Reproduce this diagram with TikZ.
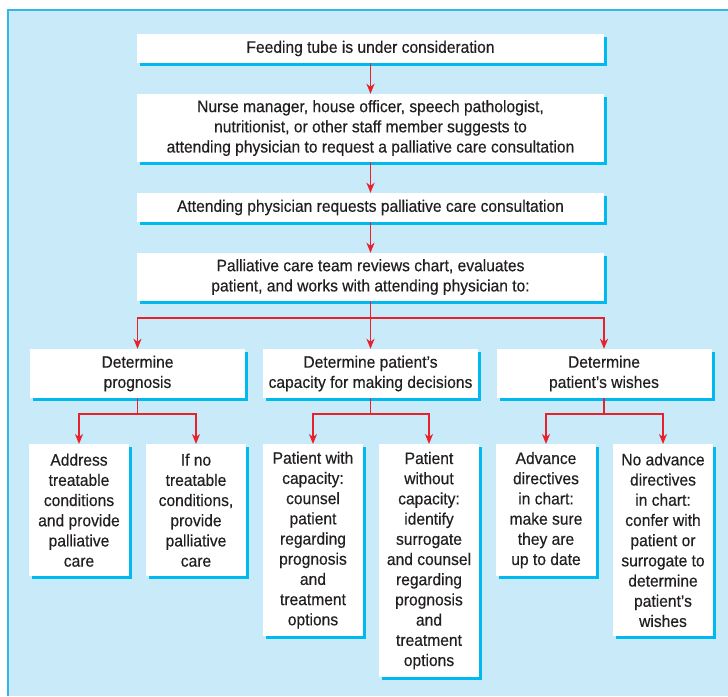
\documentclass[tikz,border=0pt]{standalone}
\usepackage{fontspec}
\setmainfont[FakeStretch=0.94,FakeBold=0.4]{Liberation Sans}
\usetikzlibrary{shadows,arrows.meta}
\definecolor{bgc}{HTML}{C8EAF9}
\definecolor{shc}{HTML}{00B9EE}
\definecolor{framec}{HTML}{35B6E8}
\definecolor{redc}{HTML}{E8212B}
\definecolor{txtc}{HTML}{231F20}
\begin{document}
\begin{tikzpicture}[x=1pt,y=-1pt,
 box/.style={fill=white, text=txtc, align=center, inner sep=0pt,
   font=\fontsize{16.6}{20.2}\selectfont,
   drop shadow={shadow xshift=3pt, shadow yshift=-3pt, fill=shc, opacity=1}},
 wide/.style={box, minimum width=467pt},
 midbox/.style={box, minimum width=215pt, minimum height=49pt},
 leaf/.style={box, minimum width=100pt, anchor=north},
 flow/.style={draw=redc, line width=1.6pt, -{Stealth[length=10pt,width=8pt,inset=3pt]}}]
\useasboundingbox (0,0) rectangle (728,696);
\fill[bgc] (8,10) rectangle (728,696);
\draw[framec, line width=1.2pt] (8,696) -- (8,10) -- (728,10);

\node[wide, minimum height=29pt] (b1) at (370.5,48.5) {Feeding tube is under consideration};
\node[wide, minimum height=68pt] (b2) at (370.5,128) {Nurse manager, house officer, speech pathologist,\\ nutritionist, or other staff member suggests to\\ attending physician to request a palliative care consultation};
\node[wide, minimum height=29pt] (b3) at (370.5,207.5) {Attending physician requests palliative care consultation};
\node[wide, minimum height=48pt] (b4) at (370.5,277) {Palliative care team reviews chart, evaluates\\ patient, and works with attending physician to:};

\node[midbox] (l) at (137.5,373.5) {Determine\\ prognosis};
\node[midbox] (m) at (370.5,373.5) {Determine patient’s\\ capacity for making decisions};
\node[midbox] (r) at (604,373.5) {Determine\\ patient’s wishes};

\node[leaf, minimum height=132pt] (l1) at (79,444) {Address\\ treatable\\ conditions\\ and provide\\ palliative\\ care};
\node[leaf, minimum height=132pt] (l2) at (196,444) {If no\\ treatable\\ conditions,\\ provide\\ palliative\\ care};
\node[leaf, minimum height=192pt] (m1) at (313,444) {Patient with\\ capacity:\\ counsel\\ patient\\ regarding\\ prognosis\\ and\\ treatment\\ options};
\node[leaf, minimum height=233pt] (m2) at (429,444) {Patient\\ without\\ capacity:\\ identify\\ surrogate\\ and counsel\\ regarding\\ prognosis\\ and\\ treatment\\ options};
\node[leaf, minimum height=132pt] (r1) at (546,444) {Advance\\ directives\\ in chart:\\ make sure\\ they are\\ up to date};
\node[leaf, minimum height=192pt] (r2) at (663,444) {No advance\\ directives\\ in chart:\\ confer with\\ patient or\\ surrogate to\\ determine\\ patient’s\\ wishes};

\draw[flow] (b1) -- (b2);
\draw[flow] (b2) -- (b3);
\draw[flow] (b3) -- (b4);
\draw[flow] (b4) -- (m);
\draw[flow] (b4.south) -- ++(0,17) -| (l);
\draw[flow] (b4.south) -- ++(0,17) -| (r);

\draw[flow] (l.south) -- ++(0,16) -| (l1);
\draw[flow] (l.south) -- ++(0,16) -| (l2);
\draw[flow] (m.south) -- ++(0,16) -| (m1);
\draw[flow] (m.south) -- ++(0,16) -| (m2);
\draw[flow] (r.south) -- ++(0,16) -| (r1);
\draw[flow] (r.south) -- ++(0,16) -| (r2);
\end{tikzpicture}
\end{document}
